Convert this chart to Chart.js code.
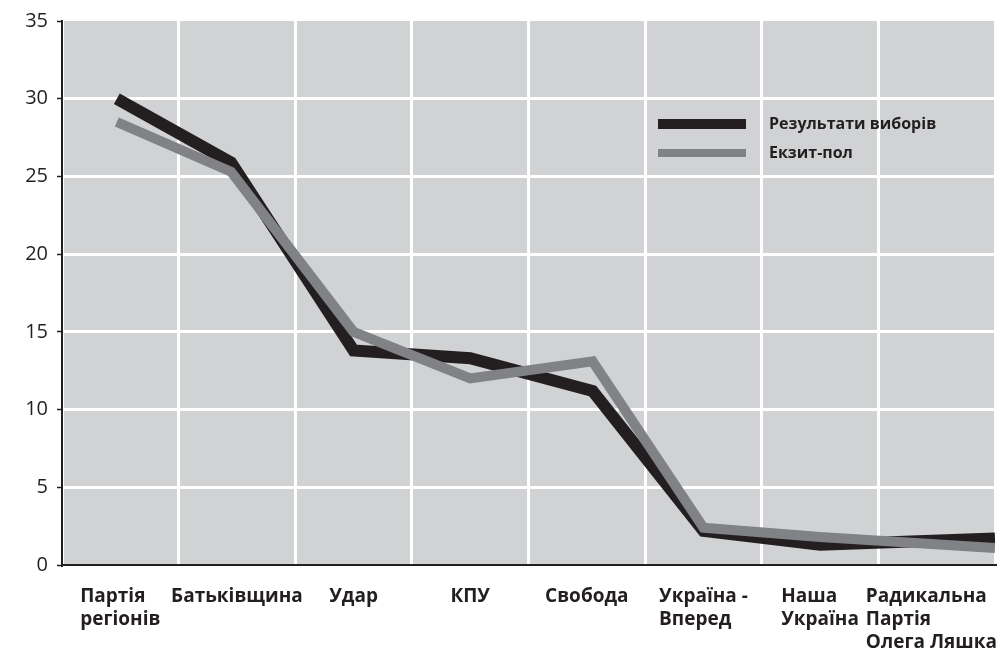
<!DOCTYPE html>
<html>
<head>
<meta charset="utf-8">
<script src="https://cdn.jsdelivr.net/npm/chart.js@4/dist/chart.umd.min.js"></script>
<style>
  html, body { margin: 0; padding: 0; background: #fff; }
  #wrap { width: 1001px; height: 654px; }
</style>
</head>
<body>
<div id="wrap"><canvas id="chart" width="1001" height="654"></canvas></div>
<script>
// categories (parties)
const parties = [
    ['Партія', 'регіонів'],
    ['Батьківщина'],
    ['Удар'],
    ['КПУ'],
    ['Свобода'],
    ['Україна -', 'Вперед'],
    ['Наша', 'Україна'],
    ['Радикальна', 'Партія', 'Олега Ляшка']
];
// where each point sits along the x axis (category slots 0..8)
const partyPos = [0.47, 1.45, 2.5, 3.5, 4.55, 5.5, 6.5, 8];

const electionResults = [30.0, 25.9, 13.8, 13.3, 11.2, 2.2, 1.3, 1.7];
const exitPoll = [28.5, 25.3, 15.0, 12.0, 13.1, 2.4, 1.8, 1.1];

const seriesNames = ['Результати виборів', 'Екзит-пол'];
const yTicks = [0, 5, 10, 15, 20, 25, 30, 35];

const dark = '#231f20';
const grey = '#808285';
const plotBg = '#d1d2d4';
const fontFam = '"Open Sans", "Noto Sans", sans-serif';

function toPoints(values) {
    return values.map((v, i) => ({ x: partyPos[i], y: v }));
}

// grey plot background
const plotBackground = {
    id: 'plotBackground',
    beforeDraw(chart) {
        const { ctx, chartArea: a } = chart;
        ctx.save();
        ctx.fillStyle = plotBg;
        ctx.fillRect(a.left, a.top, a.right - a.left, a.bottom - a.top);
        ctx.restore();
    }
};

// category labels: block centred under the slot, lines left aligned
const partyLabels = {
    id: 'partyLabels',
    afterDraw(chart) {
        const { ctx } = chart;
        const xs = chart.scales.x;
        ctx.save();
        ctx.font = 'bold 19px ' + fontFam;
        ctx.fillStyle = dark;
        ctx.textBaseline = 'middle';
        ctx.textAlign = 'left';
        parties.forEach((lines, i) => {
            const w = Math.max(...lines.map(l => ctx.measureText(l).width));
            let left = xs.getPixelForTick(i) - w / 2;
            left = Math.min(left, chart.width - 4 - w);
            lines.forEach((l, j) => {
                ctx.fillText(l, left, xs.top + 32 + j * 23);
            });
        });
        ctx.restore();
    }
};

// legend drawn inside the plot, top right
const insideLegend = {
    id: 'insideLegend',
    afterDatasetsDraw(chart) {
        const { ctx, chartArea: a } = chart;
        const x0 = a.left + 596;
        const y0 = a.top + 103;
        ctx.save();
        chart.data.datasets.forEach((ds, i) => {
            const y = y0 + i * 29;
            ctx.fillStyle = ds.borderColor;
            const h = i === 0 ? 10 : 8;
            ctx.fillRect(x0, y - h / 2, 88, h);
            ctx.fillStyle = dark;
            ctx.font = 'bold 16px ' + fontFam;
            ctx.textBaseline = 'middle';
            ctx.fillText(ds.label, x0 + 111, y);
        });
        ctx.restore();
    }
};

new Chart(document.getElementById('chart'), {
    type: 'line',
    data: {
        labels: parties,
        datasets: [
            {
                label: seriesNames[0],
                data: toPoints(electionResults),
                xAxisID: 'xv',
                borderColor: dark,
                borderWidth: 12,
                borderJoinStyle: 'miter',
                borderCapStyle: 'butt',
                pointRadius: 0,
                tension: 0,
                order: 2
            },
            {
                label: seriesNames[1],
                data: toPoints(exitPoll),
                xAxisID: 'xv',
                borderColor: grey,
                borderWidth: 10,
                borderJoinStyle: 'miter',
                borderCapStyle: 'butt',
                pointRadius: 0,
                tension: 0,
                order: 1
            }
        ]
    },
    options: {
        responsive: false,
        animation: false,
        layout: { padding: { top: 8, right: 6, left: 0, bottom: 0 } },
        plugins: {
            legend: { display: false },
            tooltip: { enabled: false }
        },
        scales: {
            x: {
                type: 'category',
                offset: true,
                border: { display: true, color: dark, width: 2 },
                grid: {
                    offset: true,
                    color: '#ffffff',
                    lineWidth: 3,
                    drawTicks: false
                },
                ticks: { display: false },
                afterFit(scale) {
                    scale.height = 89;
                    scale.paddingLeft = 0;
                    scale.paddingRight = 0;
                }
            },
            xv: {
                type: 'linear',
                display: false,
                min: 0,
                max: 8
            },
            y: {
                min: 0,
                max: 35,
                afterBuildTicks(scale) {
                    scale.ticks = yTicks.map(v => ({ value: v }));
                },
                border: { display: true, color: dark, width: 2 },
                grid: {
                    color: ctx => ctx.tick && ctx.tick.value === 35 ? 'rgba(0,0,0,0)' : '#ffffff',
                    lineWidth: 3,
                    tickColor: dark,
                    tickLength: 5,
                    tickWidth: 1.5
                },
                ticks: {
                    color: dark,
                    padding: 9,
                    font: { family: fontFam, size: 20 }
                },
                afterFit(scale) {
                    scale.width = 62;
                }
            }
        }
    },
    plugins: [plotBackground, partyLabels, insideLegend]
});
</script>
</body>
</html>
